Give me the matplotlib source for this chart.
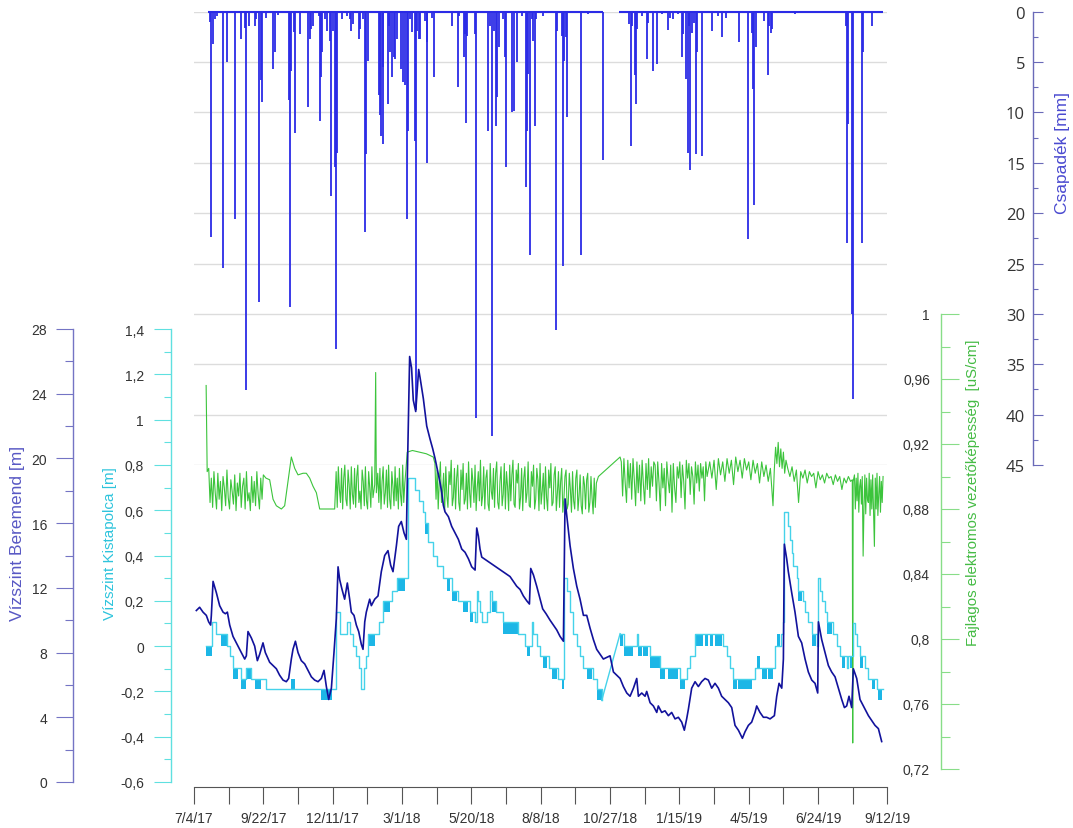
import datetime as dt
import numpy as np
import matplotlib
matplotlib.use("Agg")
import matplotlib.pyplot as plt
from matplotlib.ticker import FixedLocator, MultipleLocator, FuncFormatter

START = dt.date(2017, 7, 4)
N_DAYS = 800

# Csapadék [mm] - day offset from START
rain_day = [18, 20, 22, 24, 26, 33.5, 38.5, 47, 54, 58.5, 60.4, 64, 70, 72, 74.6, 77, 78.5, 83.5, 91, 94,
            97, 109.6, 110.8, 112.3, 115.4, 117, 122, 131.5, 133.5, 135.4, 137.3, 144.2, 145, 147, 148, 151,
            154, 156.5, 157.7, 160.4, 162.3, 164.2, 165, 171, 177, 179.6, 181.5, 183.5, 190, 191.2, 195, 197,
            198.8, 200.8, 213, 214.2, 215.4, 217.7, 218.5, 223.8, 225, 226.5, 228.5, 230.8, 232.3, 234.2,
            238.5, 241.1, 243.1, 245.4, 246.9, 248.8, 251.5, 254.6, 255.8, 257.7, 259.6,
            261, 266.5, 268.5, 269.3, 274.3, 277, 297.3, 304.3, 306.2, 311.6, 313.1, 313.9, 315.4, 324.3, 325,
            339.6, 341.6, 343.9, 346.2, 348.5, 350, 352.3, 356.2, 358.9, 360, 366.6, 369.6, 372.3, 378.5,
            383.1, 384.6, 385.8, 387.7, 389.6, 391.6, 393.5, 394.6, 403.1, 417.7, 418.5, 424.3, 426.2, 427.3,
            428.9, 430.8, 446.6, 455, 471.6,
            502.3, 503.9, 505, 508.9, 510, 510.8, 516.6, 522.3, 523.5, 529.3, 534,
            539.6, 546.5, 549.2, 553.1, 558.8, 562.7, 564.6, 567.3, 569.6, 571.1, 572.7, 574.2, 577.3, 578.8,
            580.4, 586.5, 597.3, 605, 608.8, 613.4, 628.8, 639.6, 643.4, 645.4, 646.5, 648.4, 658.1, 661.9,
            663.4, 665.7, 667.3, 693.4, 718.4, 751.9, 753.4, 754.2, 758.8, 760, 770.4, 772.3, 782.7]
rain_mm = [1.0, 22.4, 3.2, 0.7, 0.4, 25.4, 5.0, 20.6, 2.7, 1.6, 37.6, 1.4, 1.4, 0.7, 28.8, 6.8, 9.0, 0.6, 5.7, 4.0,
           0.3, 8.8, 29.3, 5.9, 2.0, 12.0, 2.2, 9.5, 2.7, 1.7, 1.4, 0.4, 10.9, 6.5, 4.0, 0.7,
           1.9, 2.9, 18.3, 1.9, 15.4, 33.5, 14.0, 0.7, 0.4, 0.7, 1.9, 1.2, 2.7, 1.7, 0.7, 21.9,
           14.1, 4.9, 8.3, 10.3, 12.3, 13.1, 5.5, 9.2, 1.4, 4.0, 6.5, 4.5, 4.7, 2.7,
           5.7, 7.0, 7.3, 20.6, 11.8, 0.7, 2.0, 12.8, 39.5, 1.9, 2.7,
           2.7, 0.9, 3.0, 15.0, 0.6, 6.5, 1.4, 7.5, 0.4, 4.5, 2.2, 11.0, 2.4, 2.2, 40.3,
           11.8, 1.4, 42.1, 1.9, 11.3, 8.5, 3.5, 0.7, 4.5, 15.4, 10.0, 9.9, 5.0, 0.4,
           17.4, 11.8, 6.2, 24.2, 0.7, 2.9, 11.3, 0.7, 0.4, 31.6, 1.9, 2.4, 25.2, 4.9,
           2.5, 10.5, 24.2, 0.2, 14.7,
           1.2, 13.3, 1.4, 6.3, 9.2, 1.7, 0.4, 4.7, 1.1, 5.9, 5.2,
           0.2, 1.8, 0.6, 0.7, 0.2, 4.5, 2.2, 6.7, 14.0, 1.4, 15.7, 2.1, 1.1, 14.1,
           4.0, 14.3, 1.9, 0.4, 2.5, 0.6, 3.0, 22.6, 2.1, 7.7, 19.2, 3.5, 0.9, 6.3,
           1.4, 2.1, 1.7, 0.2, 0.1, 1.4, 23.0, 11.1, 30.0, 38.4, 23.0, 4.0, 1.4]
rain_logged = [(16, 472), (490, 795)]

# Vízszint Beremend [m]
ber_day = [2.7, 6.5, 10.4, 14.2, 16.9, 19.2, 20.0, 22.0, 25.8, 29.6, 33.5, 36.2, 38.5, 41.2, 45.0, 48.8, 54.6,
           58.5, 60.4, 62.3, 66.2, 70.0, 73.1, 75.8, 79.6, 82.3, 87.3, 91.2, 95.0, 98.8, 102.7, 106.5, 109.2,
           112.3, 114.2, 117.0, 120.0, 123.8, 127.7, 131.5, 135.4, 139.2, 143.1, 146.9, 150.0, 152.7, 155.4,
           158.5, 161.5, 164.2, 166.2, 168.1, 170.8, 173.8, 176.9, 179.6, 181.5, 184.6, 187.3, 190.0, 193.1,
           195.0, 197.0, 198.8, 202.7, 204.6, 208.5, 212.3, 216.1, 220.0, 223.8, 226.9, 229.6, 233.5, 236.1,
           239.2, 242.3, 245.0, 246.5, 248.8, 251.0, 253.0, 255.8, 259.2, 260.8, 264.6, 268.5, 272.3, 275.4,
           278.1, 280.8, 283.9, 285.8, 287.7, 289.6, 293.5, 297.3, 301.2, 305.0, 308.9, 312.7, 316.6, 320.4,
           324.3, 326.2, 328.1, 330.0, 332.0, 364.6, 368.5, 372.3, 376.2, 380.0, 383.9, 387.0, 388.5, 391.6,
           395.4, 399.3, 402.3, 406.2, 410.8, 414.6, 418.5, 422.3, 426.2, 428.1, 430.0, 433.9, 437.7, 441.6,
           445.4, 449.3, 453.1, 457.0, 460.8, 464.6, 468.5, 472.3, 476.2, 480.0, 483.9, 487.7, 491.6, 495.4,
           499.3, 503.1, 507.0, 510.8, 512.7, 516.6, 520.4, 522.3, 526.2, 530.0, 533.9, 535.7, 539.6, 543.4,
           547.3, 551.1, 555.0, 558.8, 562.7, 565.7, 568.4, 570.4, 574.2, 578.1, 581.9, 585.7, 589.6, 593.4,
           597.3, 601.1, 605.0, 608.8, 612.7, 616.5, 620.4, 624.2, 628.1, 632.7, 635.7, 639.6, 643.4, 647.3,
           649.2, 653.0, 656.9, 660.7, 664.6, 669.6, 672.3, 675.0, 678.1, 680.0, 681.1, 683.8, 685.7, 689.6,
           693.4, 697.3, 701.1, 705.0, 708.8, 712.7, 716.5, 719.6, 720.4, 724.2, 728.1, 731.9, 735.7, 739.6,
           743.4, 747.3, 750.4, 753.0, 755.7, 758.8, 760.7, 764.6, 768.4, 772.3, 778.1, 781.9, 785.7, 789.6,
           793.4]
ber_m = [10.6, 10.8, 10.5, 10.3, 9.9, 9.7, 10.3, 12.4, 11.7, 10.9, 10.5, 10.4, 10.5, 9.7, 9.0, 8.6, 8.0,
         7.6, 7.8, 9.3, 8.9, 8.4, 7.5, 7.9, 8.6, 8.0, 7.4, 7.2, 7.0, 6.6, 6.3, 6.2, 6.4,
         7.6, 8.2, 8.7, 8.0, 7.5, 7.3, 6.9, 6.5, 6.3, 6.2, 6.4, 6.9, 5.9, 5.1,
         5.8, 8.0, 10.1, 13.3, 12.5, 11.9, 11.3, 12.3, 11.3, 10.5, 10.3, 9.7, 9.3, 8.5,
         8.2, 9.9, 10.5, 11.3, 10.9, 11.3, 11.5, 13.0, 14.0, 14.3, 13.4, 13.0, 14.6, 15.8,
         16.1, 15.4, 15.0, 20.0, 26.3, 25.6, 23.6, 22.9, 25.5, 25.0, 23.7, 22.0, 21.2, 20.6,
         20.0, 19.3, 18.5, 17.9, 17.1, 16.7, 16.4, 15.8, 15.4, 15.0, 14.4, 14.2, 13.8, 13.3,
         13.1, 15.7, 15.2, 14.4, 13.9, 12.7, 12.4, 12.1, 11.9, 11.5, 11.2, 11.0, 13.2, 12.8,
         12.1, 11.3, 10.7, 10.4, 10.0, 9.7, 9.4, 9.0, 8.7, 17.5, 16.5, 14.6, 13.2, 12.1,
         11.3, 10.3, 10.3, 9.5, 8.8, 8.2, 7.9, 7.6, 7.7, 7.8, 6.8, 6.6, 6.4, 5.9,
         5.5, 5.3, 5.8, 6.4, 5.3, 5.5, 5.3, 5.6, 4.9, 4.7, 4.3, 4.7, 4.3, 4.4,
         4.1, 4.3, 3.9, 4.0, 3.7, 3.2, 3.9, 4.5, 5.8, 6.2, 5.9, 6.2, 6.4, 6.3,
         5.8, 6.1, 5.8, 5.3, 5.1, 4.9, 4.6, 3.5, 3.2, 2.7, 3.1, 3.5, 3.7, 4.3,
         4.7, 4.3, 4.0, 4.0, 3.9, 4.1, 5.3, 6.1, 5.8, 7.6, 14.7, 13.8, 13.0, 11.7,
         10.5, 9.0, 8.6, 7.6, 6.8, 6.3, 6.1, 5.5, 9.9, 8.8, 8.0, 7.2, 6.8, 6.5,
         5.8, 5.1, 4.6, 4.7, 5.3, 4.6, 7.0, 6.4, 5.1, 4.7, 4.1, 3.8, 3.5, 3.3,
         2.5]

# Vízszint Kistapolca [m] - logged in steps
kis_day = [14, 20.8, 25.8, 38.5, 41.2, 45, 54.6, 60.4, 66.2, 83.5, 163.5, 168, 176, 180, 183, 187, 190, 193,
           196, 199, 201, 213, 218, 229, 234.5, 246.5, 255, 260, 264.6, 266.5, 270.4, 276, 280, 287.7, 297.3,
           305, 318.5, 324.3, 326.2, 328.1, 330, 332, 337.7, 341.6, 343.5, 349, 356, 374, 382, 389.6, 391.6,
           395.4, 399.3, 409, 420, 427, 430, 433.9, 437.7, 441.6, 445.4, 449.3, 460.8, 464.6, 470.4,
           491.6, 496, 510.8, 512.7, 526.2, 538, 560.8, 568.4, 572, 578, 610.8, 614.6, 618.5, 622.3, 647.3,
           670.4, 677.3, 680, 681.1, 685.7, 687.7, 689.6, 691.5, 695.4, 697.3, 703, 705, 708.8, 712.7, 718.4,
           720.4, 722.3, 724.2, 728.1, 730, 737.7, 741.5, 745.4, 753, 755, 760.7, 762.7, 764.6, 768.4, 774,
           778.1, 787.7, 794.6]
kis_m = [0.0, 0.105, 0.055, 0.0, -0.045, -0.095, -0.145, -0.095, -0.145, -0.19, 0.15, 0.055, 0.105, 0.055, 0.0,
         -0.045, -0.095, -0.19, -0.095, -0.045, 0.055, 0.105, 0.2, 0.245, 0.3, 0.74, 0.69, 0.64, 0.59, 0.545, 0.46,
         0.4, 0.355, 0.3, 0.245, 0.2, 0.15, 0.105, 0.245, 0.2, 0.15, 0.105, 0.15, 0.245, 0.2, 0.15, 0.105, 0.055,
         0.0, 0.105, 0.055, 0.0, -0.045, -0.095, -0.145, 0.3, 0.245, 0.15, 0.055, 0.0, -0.045, -0.095, -0.145,
         -0.19, -0.24,
         0.055, 0.0, 0.055, 0.0, -0.045, -0.095, -0.145, -0.095, -0.045, 0.055, 0.0, -0.045, -0.095, -0.145,
         -0.095, 0.0, 0.055, 0.105, 0.59, 0.53, 0.47, 0.41, 0.355, 0.3, 0.245, 0.2, 0.15, 0.105, 0.055, 0.0,
         0.3, 0.245, 0.2, 0.15, 0.105, 0.055, 0.0, -0.045, -0.095, -0.045, 0.1, 0.055, 0.0, -0.045, -0.095,
         -0.145, -0.19, -0.19]
kis_gap = (470.4, 491.6)  # no logging, straight line
# periods where the gauge flickers between two steps
kis_blk_start = [14, 31.5, 45, 54.6, 60.4, 70, 112.3, 147, 201, 218, 234.5, 266.5, 291.6, 297.3, 310.8, 318.5,
                 343.5, 356, 384, 403, 412.7, 424, 453, 464.6, 491.6, 496, 512.7, 518.5, 526.2, 538, 547.3,
                 560.8, 578, 589.6, 595.4, 601, 622.3, 628, 649.2, 655, 662.7, 672.3, 697.3, 712.7, 730,
                 747.3, 757, 768.4, 781.9, 789.6]
kis_blk_end = [21, 38.5, 50.8, 60.4, 66.2, 77.7, 116, 159, 208.5, 226, 243, 270.4, 295.4, 303, 316.6, 322.3,
               349, 374, 388, 407, 418.5, 427, 459, 470.4, 495.4, 507, 516.6, 524, 537.7, 543, 558.8,
               566.5, 587.6, 593.4, 599.2, 608.8, 626, 643.4, 653, 660.7, 668.4, 676, 701, 717.3, 735.7,
               751, 759, 772.3, 785.7, 793.4]
kis_blk_hi = [0.0, 0.055, -0.095, -0.145, -0.095, -0.145, -0.145, -0.19, 0.055, 0.2, 0.3, 0.545, 0.3, 0.245,
              0.2, 0.15, 0.2, 0.105, 0.0, -0.045, -0.095, -0.145, -0.095, -0.19, 0.055, 0.0, 0.0, 0.0, -0.045,
              -0.095, -0.095, -0.145, 0.055, 0.055, 0.055, 0.055, -0.145, -0.145, -0.045, -0.095, -0.095,
              0.055, 0.245, 0.055, 0.105, -0.045, -0.045, -0.045, -0.145, -0.19]
kis_blk_lo = [-0.045, 0.0, -0.145, -0.19, -0.145, -0.19, -0.19, -0.24, 0.0, 0.15, 0.245, 0.495, 0.245, 0.2,
              0.15, 0.105, 0.15, 0.055, -0.045, -0.095, -0.145, -0.19, -0.145, -0.24, 0.0, -0.045, -0.045,
              -0.045, -0.095, -0.145, -0.145, -0.19, 0.0, 0.0, 0.0, 0.0, -0.19, -0.19, -0.095, -0.145, -0.145,
              0.0, 0.2, 0.0, 0.055, -0.095, -0.095, -0.095, -0.19, -0.24]

# Fajlagos elektromos vezetőképesség (readings x 1000)
ec_pts_day = [14, 15.2, 83, 87.3, 91.2, 95, 100.8, 104.6, 112.3, 116.2, 120, 125.8, 129.6, 133.5, 137.3, 141.2,
              145, 162.3, 208.5, 209.6, 210.4, 246, 252, 260, 268, 276, 466.6, 491.6, 668, 669.5, 671, 672.5,
              674, 675.5, 677, 678.5, 680, 681.5, 683, 759.5, 760, 760.5]
ec_pts_val = [956, 903, 899, 898, 886, 882, 880, 882, 912, 905, 901, 902, 902, 899,
              894, 890, 880, 880, 895, 964, 890, 915, 916, 915, 914, 912, 900, 912,
              882, 904, 918, 908, 921, 906, 917, 905, 915, 902, 910, 898, 736, 897]
# dense runs: (start day, days between readings, readings)
ec_a = [905, 884, 899, 881, 903, 890, 880, 902, 886, 897, 879, 900, 893, 882, 904, 887, 880, 898, 891, 883,
        901, 879, 896, 888, 902, 881, 894, 899, 880, 903, 885, 890, 879, 900, 884, 897, 882, 903, 889, 880,
        899, 886, 901]
ec_b1 = [903, 881, 906, 892, 884, 905, 880, 899, 907, 886, 882, 904, 895, 880, 906, 889, 883, 905, 881, 900,
         907, 884, 891, 880, 904, 897, 882, 906, 885, 880, 903, 893, 881, 906, 887]
ec_b2 = [902, 884, 905, 880, 897, 906, 883, 890, 904, 881, 907, 886, 880, 903, 894, 882, 906, 885, 899, 880,
         905, 889, 882, 907, 884, 896, 904]
ec_d = [908, 886, 904, 880, 897, 909, 884, 891, 902, 879, 906, 888, 881, 903, 895, 910, 882, 887, 905, 880,
        899, 907, 884, 879, 904, 892, 908, 883, 886, 902, 880, 909, 890, 881, 905, 897, 884, 907, 879, 893,
        903, 885, 910, 882, 888, 906, 880, 899, 904, 883, 879, 908, 891, 886, 905, 881, 902, 909, 884, 880,
        897, 906, 882, 889, 908, 880, 903, 894, 879, 907, 885, 901, 910, 883, 881, 904, 896, 908, 880, 887,
        905, 879, 899, 906, 884, 890, 909, 882, 881, 903, 894, 907, 880, 886, 905, 898, 879, 908, 883, 891,
        902, 880, 906, 887, 879, 904, 893, 908, 882, 884, 901, 906, 879, 890, 903, 881, 897, 905, 878, 886,
        900, 904, 880, 883, 902, 892, 878, 903, 885, 880, 899, 904, 879, 888, 901, 882, 877, 900, 895, 880,
        898, 902, 878, 884, 900, 887, 877, 899, 881, 896]
ec_f = [909, 888, 911, 896, 884, 910, 893, 908, 886, 911, 898, 882, 909, 890, 907, 885, 910, 895, 883, 908,
        892, 911, 887, 906, 894, 909]
ec_g = [907, 885, 909, 896, 879, 908, 893, 905, 882, 909, 898, 890, 907, 878, 908, 893, 884, 906, 899, 909,
        887, 907, 897, 880, 910, 899, 908, 889, 906, 900, 883, 909, 896, 907, 891, 908, 899, 906, 885, 909,
        900]
ec_h = [909, 899, 910, 892, 911, 901, 909, 897, 911, 902, 910, 895, 912, 903, 910, 899, 911, 904, 909, 898,
        910, 902, 908, 896, 909, 900, 907, 897, 905]
ec_j = [905, 900, 906, 897, 904, 884, 903, 899, 904, 896, 903, 900, 902, 893, 903, 898, 901, 896, 902, 899,
        900, 895, 901, 897, 900, 892, 899, 896, 900, 897]
ec_l = [901, 880, 899, 885, 902, 878, 894, 898, 883, 900, 851, 882, 901, 877, 899, 886, 884, 902, 876, 898,
        880, 901, 878, 857, 899, 880, 902, 876, 889, 900, 878, 897, 884, 900]
ec_runs = [(17, 1.5, ec_a), (164, 1.25, ec_b1), (212, 1.25, ec_b2), (278, 1.25, ec_d), (493, 1.5, ec_f),
           (532, 1.5, ec_g), (595, 2.5, ec_h), (685, 2.5, ec_j), (762, 1, ec_l)]

RAIN_C = "#2b2be6"
BER_C = "#12129c"
KIS_C = "#45d2ea"
BLK_C = "#1cb6e6"
EC_C = "#3cc43c"

plt.rcParams["font.family"] = ["Liberation Sans", "DejaVu Sans"]

W, H = 1073, 829
fig = plt.figure(figsize=(W / 100, H / 100), dpi=100)
X0, XW = 194 / W, 693.4 / W


def frame(top, bottom):
    return [X0, 1 - bottom / H, XW, (bottom - top) / H]


def comma(v, pos):
    return f"{round(v, 2):g}".replace(".", ",") if abs(v) > 1e-9 else "0"


def date_label(d, pos):
    d = int(round(d))
    if d % 80:
        return ""
    day = START + dt.timedelta(days=d)
    return f"{day.month}/{day.day}/{day.year % 100}"


def y_axis(ax, pos, color, major, minor, lmaj, lmin, direction, pad, size=10, family=None):
    for s in ax.spines.values():
        s.set_visible(False)
    sp = ax.spines["left"]
    sp.set_visible(True)
    sp.set_position(("axes", pos))
    sp.set_color(color)
    sp.set_linewidth(1.0)
    ax.yaxis.set_ticks_position("left")
    ax.yaxis.set_major_locator(FixedLocator(major))
    ax.yaxis.set_minor_locator(MultipleLocator(minor))
    ax.yaxis.set_major_formatter(FuncFormatter(comma))
    ax.tick_params(axis="y", which="major", direction=direction, length=lmaj, width=0.8, color=color,
                   pad=pad, labelsize=size, labelcolor="#333333")
    ax.tick_params(axis="y", which="minor", direction=direction, length=lmin, width=0.8, color=color)
    if family:
        for t in ax.get_yticklabels():
            t.set_family(family)
    ax.set_xticks([])
    ax.set_xlim(0, N_DAYS)
    ax.patch.set_visible(False)


# time axis
ax_x = fig.add_axes([X0, 1 - 788 / H, XW, 0.3])
for s in ax_x.spines.values():
    s.set_visible(False)
ax_x.spines["bottom"].set_visible(True)
ax_x.spines["bottom"].set_color("#555555")
ax_x.set_yticks([])
ax_x.set_xlim(0, N_DAYS)
ax_x.xaxis.set_major_locator(FixedLocator(range(0, N_DAYS + 1, 40)))
ax_x.xaxis.set_major_formatter(FuncFormatter(date_label))
ax_x.tick_params(axis="x", direction="out", length=12.5, width=0.8, color="#555555", pad=4.5,
                 labelsize=10, labelcolor="#333333")
ax_x.patch.set_visible(False)

# precipitation (hanging bars)
ax_p = fig.add_axes(frame(12.7, 466))
ax_p.set_ylim(45, 0)
y_axis(ax_p, (1033 - 194) / 693.4, "#6a6ab8", list(range(0, 46, 5)), 2.5, 7.2, 3.6, "in", 5.8,
       size=12, family="Open Sans")
ax_p.yaxis.grid(True, color="#dcdcdc", lw=1.0)
ax_p.set_axisbelow(True)
for s, e in rain_logged:
    ax_p.hlines(0, s, e, colors=RAIN_C, lw=1.5, clip_on=False)
ax_p.vlines(rain_day, 0, rain_mm, colors=RAIN_C, lw=1.3)

# conductivity
ax_e = fig.add_axes(frame(315, 770))
ax_e.set_ylim(0.72, 1.0)
y_axis(ax_e, (941 - 194) / 693.4, "#88dd88", [0.72, 0.76, 0.8, 0.84, 0.88, 0.92, 0.96, 1.0], 0.02,
       12.7, 6.7, "in", 8)
ec_d_all = list(ec_pts_day)
ec_v_all = list(ec_pts_val)
for start, step, vals in ec_runs:
    ec_d_all += [start + step * i for i in range(len(vals))]
    ec_v_all += vals
order = np.argsort(ec_d_all)
ax_e.plot(np.array(ec_d_all)[order], np.array(ec_v_all)[order] / 1000, color=EC_C, lw=0.8)

# Kistapolca water level
ax_k = fig.add_axes(frame(330, 783))
ax_k.set_ylim(-0.6, 1.4)
y_axis(ax_k, (171 - 194) / 693.4, "#5fe0e0", [-0.6, -0.4, -0.2, 0, 0.2, 0.4, 0.6, 0.8, 1.0, 1.2, 1.4], 0.1,
       12.5, 5.3, "out", 7)
for s, e, lo, hi in zip(kis_blk_start, kis_blk_end, kis_blk_lo, kis_blk_hi):
    ax_k.fill_between([s, e], lo, hi, color=BLK_C, lw=0)
kd, km = np.array(kis_day), np.array(kis_m)
pre, post = kd <= kis_gap[0], kd >= kis_gap[1]
ax_k.step(kd[pre], km[pre], where="post", color=KIS_C, lw=1.0)
ax_k.plot([kd[pre][-1], kd[post][0]], [km[pre][-1], km[post][0]], color=KIS_C, lw=1.0)
ax_k.step(kd[post], km[post], where="post", color=KIS_C, lw=1.0)

# Beremend water level
ax_b = fig.add_axes(frame(330, 783))
ax_b.set_ylim(0, 28)
y_axis(ax_b, (73 - 194) / 693.4, "#7474c4", list(range(0, 29, 4)), 2, 12, 6, "out", 6.5)
ax_b.plot(ber_day, ber_m, color=BER_C, lw=1.2)

# axis titles
fig.text(18 / W, 1 - 533 / H, "Vízszint Beremend [m]", rotation=90, ha="center", va="center",
         color="#5858c4", fontsize=12.5)
fig.text(110 / W, 1 - 544 / H, "Vízszint Kistapolca [m]", rotation=90, ha="center", va="center",
         color="#2ec4dc", fontsize=11)
fig.text(973 / W, 1 - 493 / H, "Fajlagos elektromos vezetőképesség  [uS/cm]", rotation=90, ha="center",
         va="center", color="#44bb44", fontsize=10.8)
fig.text(1063 / W, 1 - 153 / H, "Csapadék [mm]", rotation=90, ha="center", va="center",
         color="#4a4ad0", fontsize=12.5)

fig.savefig("out.png", dpi=100, facecolor="white")
